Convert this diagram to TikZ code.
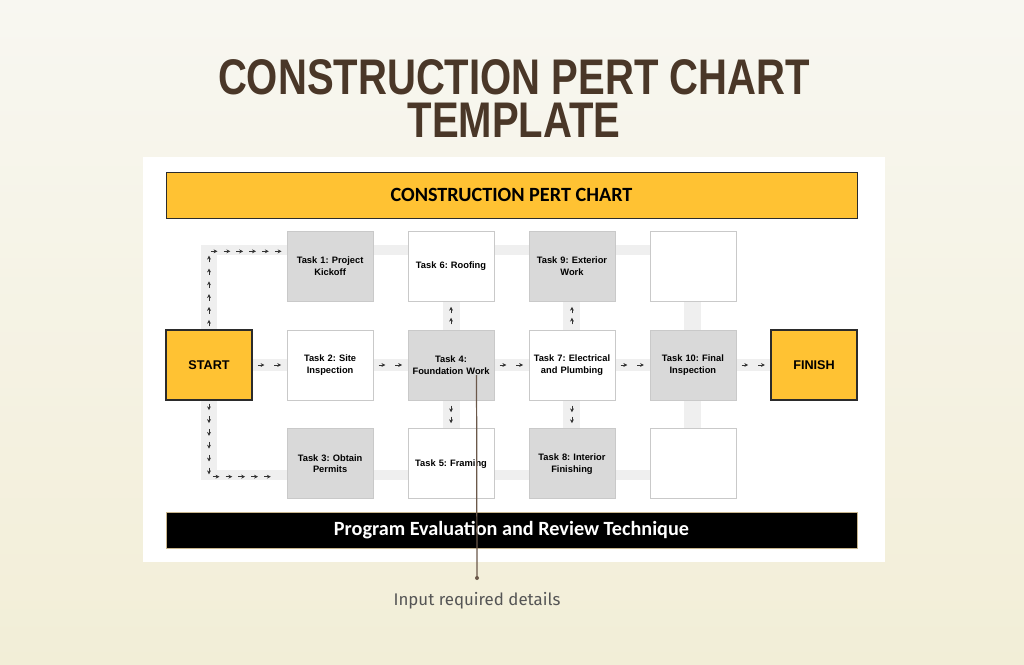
\documentclass[tikz,border=0pt]{standalone}
\usepackage{fontspec}
\setmainfont{Liberation Sans}
\newfontfamily\titlefont[FakeStretch=0.8]{Liberation Sans}
\newfontfamily\barfont{Carlito}
\newfontfamily\notefont{Fira Sans}
\usepackage{xcolor}
\usetikzlibrary{arrows.meta,positioning,calc,decorations.markings,backgrounds}
\frenchspacing

\definecolor{canvastop}{HTML}{F8F7F1}
\definecolor{canvasbottom}{HTML}{F2EED7}
\definecolor{startyellow}{HTML}{FFC233}
\definecolor{darkline}{HTML}{2B2B2B}
\definecolor{boxline}{HTML}{C9C9C9}
\definecolor{taskgray}{HTML}{D9D9D9}
\definecolor{bandgray}{HTML}{EFEFEF}
\definecolor{arrowgray}{HTML}{333333}
\definecolor{titlebrown}{HTML}{4A3728}
\definecolor{footline}{HTML}{C9B68E}
\definecolor{notegray}{HTML}{555555}
\definecolor{pinline}{HTML}{6B584A}

\begin{document}
\begin{tikzpicture}[
    x=0.02cm, y=0.02cm,
    node distance=0.56cm and 0.685cm,
    task/.style={rectangle, draw=boxline, fill=white, minimum width=1.72cm, minimum height=1.4cm, inner sep=1pt, text width=1.6cm, align=center, font=\bfseries\fontsize{5.3}{6.8}\selectfont},
    ends/.style={task, fill=startyellow, draw=darkline, line width=0.6pt, font=\bfseries\fontsize{7.2}{8}\selectfont},
    bar/.style={rectangle, minimum width=13.82cm, font=\barfont\bfseries\fontsize{11.5}{12}\selectfont},
    titletext/.style={font=\titlefont\bfseries\fontsize{28.5}{30}\selectfont, text=titlebrown, inner sep=0, anchor=base},
    band/.style={draw=bandgray, line width=#1},
    flow/.style n args={2}{postaction={decorate}, decoration={markings,
        mark=between positions #1 and -2pt step #2 with {\draw[arrowgray, line width=0.45pt, -{Stealth[length=2.2pt, width=2.2pt]}] (-3.8pt,0) -- (0,0);}}}
]
    % Title
    \node[titletext] (title1) at (514,570) {CONSTRUCTION PERT CHART};
    \node[titletext] (title2) at ($(title1.base)+(0,-43)$) {TEMPLATE};

    % Header and footer bars
    \node[bar, draw=darkline, fill=startyellow, minimum height=0.92cm] (head) at (511.5,469) {CONSTRUCTION PERT CHART};
    \node[bar, draw=footline, fill=black, text=white, minimum height=0.72cm] (foot) at (511.5,134) {Program Evaluation and Review Technique};

    % Start
    \node[ends] (start) at (209,299) {START};

    % Column 1
    \node[task, right=of start] (t2) {Task 2: Site\\Inspection};
    \node[task, fill=taskgray, above=of t2] (t1) {Task 1: Project\\Kickoff};
    \node[task, fill=taskgray, below=of t2] (t3) {Task 3: Obtain\\Permits};

    % Column 2
    \node[task, fill=taskgray, right=of t2] (t4) {Task 4:\\Foundation Work};
    \node[task, above=of t4] (t6) {Task 6: Roofing};
    \node[task, below=of t4] (t5) {Task 5: Framing};

    % Column 3
    \node[task, right=of t4] (t7) {Task 7: Electrical\\and Plumbing};
    \node[task, fill=taskgray, above=of t7] (t9) {Task 9: Exterior\\Work};
    \node[task, fill=taskgray, below=of t7] (t8) {Task 8: Interior\\Finishing};

    % Column 4
    \node[task, fill=taskgray, right=of t7] (t10) {Task 10: Final\\Inspection};
    \node[task, above=of t10] (e1) {};
    \node[task, below=of t10] (e2) {};

    % Finish
    \node[ends, right=of t10] (finish) {FINISH};

    % Canvas, panel and grid bands
    \begin{scope}[on background layer]
        \shade[top color=canvastop, bottom color=canvasbottom] (0,0) rectangle (1024,664);
        \fill[white] (143,102) rectangle (885,507);
        \draw[band=0.32cm] ($(start |- t1)+(0,21)$) -- ($(start |- t3)+(0,-16)$);
        \draw[band=0.2cm] ($(start |- t1)+(0,16)$) -- ($(e1)+(0,16)$);
        \draw[band=0.2cm] ($(start |- t3)+(0,-11)$) -- ($(e2)+(0,-11)$);
        \draw[band=0.24cm] (start) -- (finish);
        \foreach \a/\b in {t6/t5, t9/t8, e1/e2}
            \draw[band=0.34cm] (\a) -- (\b);
    \end{scope}

    % Arrows
    \path[flow={5.5pt}{7.3pt}] (start.north) |- ([yshift=0.3cm]t1.west);
    \path[flow={5.5pt}{7.3pt}] (start.south) |- ([yshift=-0.26cm]t3.west);
    \path[flow={6.8pt}{9.5pt}] (start) -- (t2);
    \path[flow={6.8pt}{9.5pt}] (t2) -- (t4);
    \path[flow={6.8pt}{9.5pt}] (t4) -- (t7);
    \path[flow={6.8pt}{9.5pt}] (t7) -- (t10);
    \path[flow={6.8pt}{9.5pt}] (t10) -- (finish);
    \path[flow={6.8pt}{6.2pt}] (t4) -- (t6);
    \path[flow={6.8pt}{6.2pt}] (t4) -- (t5);
    \path[flow={6.8pt}{6.2pt}] (t7) -- (t9);
    \path[flow={6.8pt}{6.2pt}] (t7) -- (t8);

    % Note
    \coordinate (pin) at ($(t4.center)+(25.5,-10)$);
    \coordinate (dot) at (477,86);
    \draw[pinline, line width=0.7pt] (pin) -- (dot);
    \fill[pinline] (dot) circle (2);
    \node[below=0.28cm of dot, inner sep=0, font=\notefont\fontsize{9.6}{11}\selectfont, text=notegray] (note) {Input required details};
\end{tikzpicture}
\end{document}
